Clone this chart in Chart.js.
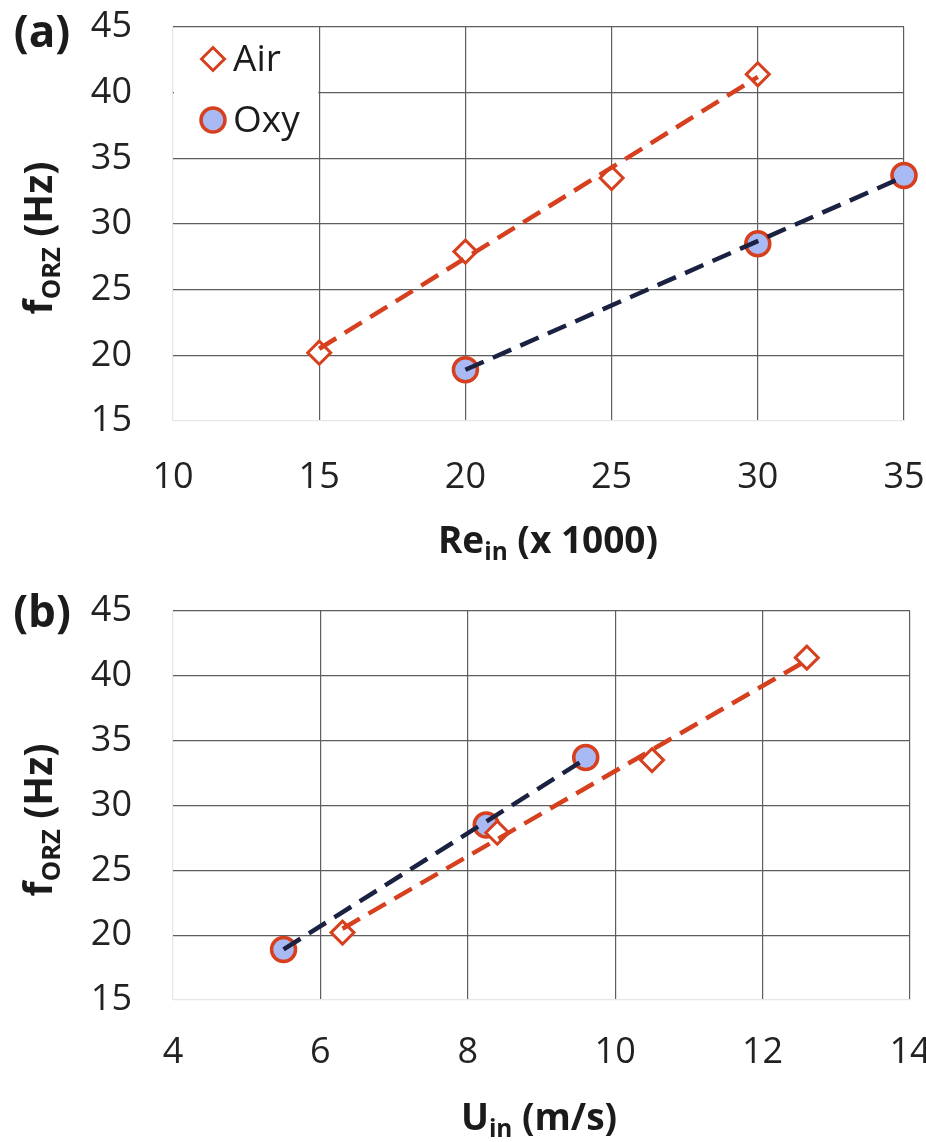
<!DOCTYPE html>
<html>
<head>
<meta charset="utf-8">
<script src="https://cdn.jsdelivr.net/npm/chart.js@4.4.0/dist/chart.umd.min.js"></script>
<style>
  html, body { margin: 0; padding: 0; background: #fff; }
  #wrap { position: relative; width: 926px; height: 1142px; font-family: "Open Sans", sans-serif; color: #1b1b1b; }
  .panel { position: absolute; left: 0; width: 926px; height: 571px; }
  .lbl { position: absolute; font-weight: bold; white-space: nowrap; transform: translate(-50%, -50%); line-height: 1; }
  .rot { transform: translate(-50%, -50%) rotate(-90deg); }
  .lbl sub { font-size: 0.66em; vertical-align: -0.32em; line-height: 0; }
</style>
</head>
<body>
<div id="wrap">
  <div class="panel" style="top:0"><canvas id="chartA"></canvas></div>
  <div class="panel" style="top:571px"><canvas id="chartB"></canvas></div>

  <div class="lbl" style="left:42px; top:30px; font-size:44px;">(a)</div>
  <div class="lbl rot" style="left:36px; top:238px; font-size:39px;">f<sub>ORZ</sub> (Hz)</div>
  <div class="lbl" style="left:548px; top:538px; font-size:37px;">Re<sub>in</sub> (x 1000)</div>

  <div class="lbl" style="left:42px; top:610px; font-size:44px;">(b)</div>
  <div class="lbl rot" style="left:36px; top:820px; font-size:39px;">f<sub>ORZ</sub> (Hz)</div>
  <div class="lbl" style="left:539px; top:1115px; font-size:37px;">U<sub>in</sub> (m/s)</div>
</div>

<script>
// axis ticks
var reTicks = [10, 15, 20, 25, 30, 35];
var uTicks = [4, 6, 8, 10, 12, 14];
var freqTicks = [15, 20, 25, 30, 35, 40, 45];

// measured points
var airRe = [15, 20, 25, 30];
var airU = [6.3, 8.4, 10.5, 12.6];
var airF = [20.2, 27.9, 33.5, 41.4];

var oxyRe = [20, 30, 35];
var oxyU = [5.5, 8.25, 9.6];
var oxyF = [18.9, 28.5, 33.7];

// trend line ends
var airFitRe = [15, 30];
var airFitU = [6.3, 12.6];
var airFitF = [20.5, 41.2];

var oxyFitRe = [20, 35];
var oxyFitU = [5.5, 9.6];
var oxyFitF = [18.9, 33.6];

var RED = '#d6401e';
var NAVY = '#1b2140';
var BLUE = '#a8b9f3';
var FONT = '"Open Sans", sans-serif';

function pts(xs, ys) {
    return xs.map(function(x, i) { return { x: x, y: ys[i] }; });
}

function trend(label, xs, ys, color) {
    return {
        label: label,
        data: pts(xs, ys),
        showLine: true,
        borderColor: color,
        borderWidth: 4.5,
        borderDash: [20, 10],
        pointRadius: 0,
        pointHoverRadius: 0,
        clip: false
    };
}

function airSet(xs, ys) {
    return {
        label: 'Air',
        data: pts(xs, ys),
        showLine: false,
        pointStyle: 'rectRot',
        pointRadius: 11.5,
        pointBorderWidth: 3,
        borderWidth: 3,
        borderColor: RED,
        backgroundColor: '#ffffff',
        clip: false
    };
}

function oxySet(xs, ys) {
    return {
        label: 'Oxy',
        data: pts(xs, ys),
        showLine: false,
        pointStyle: 'circle',
        pointRadius: 12,
        pointBorderWidth: 3.5,
        borderWidth: 3.5,
        borderColor: RED,
        backgroundColor: BLUE,
        clip: false
    };
}

// legend box sitting inside the plot, top left corner
var insetLegend = {
    id: 'insetLegend',
    afterDatasetsDraw: function(chart, args, opts) {
        if (!opts.items) return;
        var ctx = chart.ctx;
        var area = chart.chartArea;
        var left = area.left + 1, top = area.top + 1;
        var right = chart.scales.x.getPixelForValue(opts.right) - 1;
        var bottom = chart.scales.y.getPixelForValue(opts.bottom);
        ctx.save();
        ctx.fillStyle = '#ffffff';
        ctx.fillRect(left, top, right - left, bottom - top);
        opts.items.forEach(function(idx, i) {
            var ds = chart.data.datasets[idx];
            var cy = top + 31 + i * 61;
            ctx.lineWidth = ds.pointBorderWidth;
            ctx.strokeStyle = ds.borderColor;
            ctx.fillStyle = ds.backgroundColor;
            Chart.helpers.drawPoint(ctx, {
                pointStyle: ds.pointStyle,
                radius: ds.pointRadius,
                borderWidth: ds.pointBorderWidth,
                rotation: 0
            }, left + 39, cy);
            ctx.fillStyle = '#1b1b1b';
            ctx.font = '37px ' + FONT;
            ctx.textBaseline = 'middle';
            ctx.textAlign = 'left';
            ctx.fillText(ds.label, left + 59, cy + 1);
        });
        ctx.restore();
    }
};

function gridColor(c) {
    return c.index === 0 ? '#e6e6e6' : '#5e5e5e';
}

function makeChart(id, cfg) {
    var ctx = document.getElementById(id).getContext('2d');
    return new Chart(ctx, {
        type: 'scatter',
        data: { datasets: cfg.datasets },
        plugins: [insetLegend],
        options: {
            responsive: true,
            maintainAspectRatio: false,
            animation: false,
            events: [],
            layout: { padding: { top: cfg.top, right: cfg.right, bottom: 0, left: 0 } },
            plugins: {
                legend: { display: false },
                tooltip: { enabled: false },
                insetLegend: cfg.legend || {}
            },
            scales: {
                x: {
                    type: 'linear',
                    min: cfg.xTicks[0],
                    max: cfg.xTicks[cfg.xTicks.length - 1],
                    afterBuildTicks: function(axis) {
                        axis.ticks = cfg.xTicks.map(function(v) { return { value: v }; });
                    },
                    afterFit: function(axis) {
                        axis.height = cfg.xHeight;
                        axis.paddingLeft = 0;
                        axis.paddingRight = 0;
                    },
                    border: { display: false },
                    grid: { color: gridColor, lineWidth: 1.2, drawTicks: false },
                    ticks: {
                        font: { family: FONT, size: 36 },
                        color: '#222222',
                        padding: cfg.xPad,
                        maxRotation: 0,
                        autoSkip: false
                    }
                },
                y: {
                    type: 'linear',
                    min: freqTicks[0],
                    max: freqTicks[freqTicks.length - 1],
                    afterBuildTicks: function(axis) {
                        axis.ticks = freqTicks.map(function(v) { return { value: v }; });
                    },
                    afterFit: function(axis) {
                        axis.width = 173;
                        axis.paddingTop = 0;
                        axis.paddingBottom = 0;
                    },
                    border: { display: false },
                    grid: { color: gridColor, lineWidth: 1.2, drawTicks: false },
                    ticks: {
                        font: { family: FONT, size: 36 },
                        color: '#222222',
                        padding: 41,
                        autoSkip: false
                    }
                }
            }
        }
    });
}

makeChart('chartA', {
    top: 27, right: 22, xHeight: 150, xPad: 35, xTicks: reTicks,
    datasets: [
        trend('Oxy fit', oxyFitRe, oxyFitF, NAVY),
        trend('Air fit', airFitRe, airFitF, RED),
        airSet(airRe, airF),
        oxySet(oxyRe, oxyF)
    ],
    legend: { items: [2, 3], right: 15, bottom: 35.7 }
});

makeChart('chartB', {
    top: 40, right: 16, xHeight: 142, xPad: 31, xTicks: uTicks,
    datasets: [
        trend('Oxy fit', oxyFitU, oxyFitF, NAVY),
        trend('Air fit', airFitU, airFitF, RED),
        airSet(airU, airF),
        oxySet(oxyU, oxyF)
    ]
});
</script>
</body>
</html>
